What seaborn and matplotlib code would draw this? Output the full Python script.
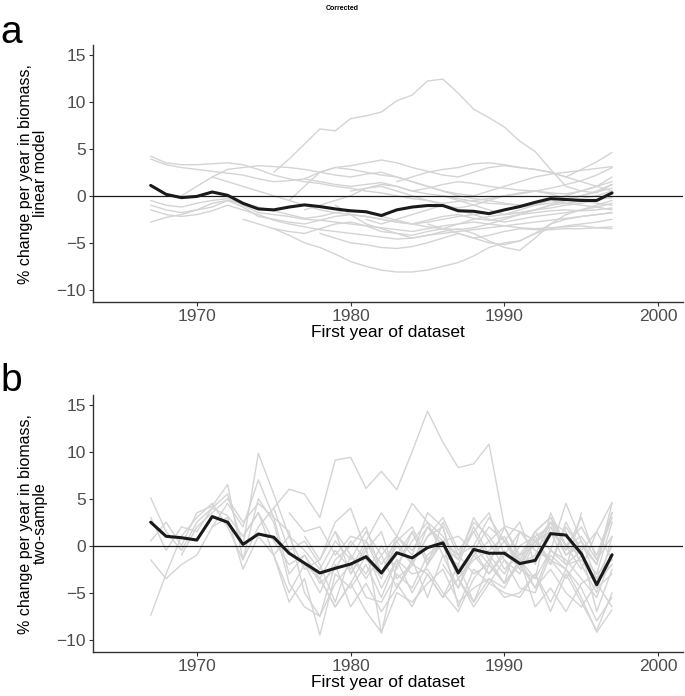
import matplotlib
matplotlib.use("Agg")
import matplotlib.pyplot as plt
import numpy as np
import pandas as pd
import seaborn as sns

years = list(range(1967, 1998))

# panel a: mean line (linear model)
mean_a = [1.1, 0.15, -0.2, -0.07, 0.4, 0.05, -0.8, -1.4, -1.5, -1.2, -0.97, -1.15,
          -1.4, -1.6, -1.7, -2.1, -1.5, -1.2, -1.04, -1.04, -1.6, -1.65, -1.9, -1.5,
          -1.15, -0.7, -0.3, -0.4, -0.5, -0.5, 0.3]

# panel b: mean line (two-sample)
mean_b = [2.5, 1.0, 0.85, 0.6, 3.1, 2.5, 0.14, 1.24, 0.9, -0.8, -1.85, -2.9,
          -2.4, -1.95, -1.17, -2.9, -0.75, -1.3, -0.2, 0.3, -2.9, -0.4, -0.8, -0.8,
          -1.9, -1.56, 1.28, 1.13, -0.85, -4.15, -0.96]

# individual datasets, (first year, values)
grey_a = [
    (1967, [4.2, 3.5, 3.3, 3.3, 3.4, 3.5, 3.3, 2.8, 2.2, 1.8, 1.5, 1.3, 1.0, 0.8, 0.5, 0.3,
            0.0, -0.3, -0.5, -0.8, -0.6, -0.5, -0.3, 0.0, 0.2, 0.5, 0.8, 1.2, 1.6, 2.2, 3.0]),
    (1967, [3.9, 3.3, 3.0, 2.8, 2.6, 2.4, 2.2, 1.8, 1.5, 1.6, 1.8, 1.5, 1.2, 1.0, 1.2, 1.4,
            1.0, 0.5, 0.2, 0.0, -0.3, -0.6, -0.8, -0.9, -1.0, -0.8, -0.5, -0.3, 0.0, 0.4, 0.8]),
    (1967, [-0.5, -1.0, -1.2, -0.8, -0.5, -0.3, -1.0, -1.8, -2.0, -2.2, -2.5, -2.6, -2.8, -3.0,
            -3.2, -3.4, -3.6, -3.8, -3.5, -3.2, -3.0, -2.8, -3.0, -3.2, -3.4, -3.5, -3.4, -3.3,
            -3.2, -3.4, -3.5]),
    (1967, [-1.0, -1.5, -1.8, -1.5, -1.2, -0.5, -1.2, -2.2, -2.5, -2.8, -3.0, -2.6, -2.2, -2.0,
            -2.2, -2.5, -2.8, -3.0, -2.6, -2.2, -2.0, -2.4, -2.6, -2.3, -2.0, -1.8, -1.6, -1.5,
            -1.6, -1.5, -1.3]),
    (1967, [-1.5, -2.0, -2.2, -2.0, -1.6, -1.0, -1.5, -2.0, -2.6, -3.0, -3.3, -3.6, -3.8, -4.0,
            -4.2, -4.4, -4.6, -4.5, -4.2, -4.0, -3.8, -3.6, -3.4, -3.2, -3.0, -2.8, -2.6, -2.4,
            -2.2, -2.0, -1.8]),
    (1967, [-2.8, -2.3, -2.0, -1.5, -0.8, -0.5, -0.8, -1.2, -1.6, -2.0, -2.4, -2.2, -1.8, -1.5,
            -1.8, -2.2, -2.6, -3.0, -3.3, -3.5, -3.6, -3.4, -3.0, -2.5, -2.0, -1.5, -1.0, -0.8,
            -0.6, -0.4, -0.2]),
    (1969, [0.0, 1.0, 2.0, 2.8, 3.0, 3.2, 3.1, 3.0, 2.8, 2.5, 2.2, 2.0, 2.3, 2.5, 2.0, 1.5,
            1.0, 0.5, 0.2, 0.0, 0.5, 1.0, 1.5, 2.0, 2.3, 2.5, 2.7, 2.9, 3.1]),
    (1971, [2.0, 1.5, 1.0, 0.5, 0.0, -0.5, -1.0, -1.5, -1.8, -2.0, -2.2, -2.5, -2.8, -3.0,
            -2.8, -2.5, -2.2, -2.0, -1.8, -1.5, -1.2, -1.0, -0.8, -0.5, -0.3, 0.0, 0.5]),
    (1975, [2.5, 3.9, 5.5, 7.1, 6.9, 8.2, 8.5, 8.9, 10.1, 10.7, 12.2, 12.4, 10.9, 9.2, 8.3,
            7.3, 5.8, 4.7, 2.8, 1.0, 0.5, 0.3, 1.2]),
    (1973, [-2.5, -3.0, -3.5, -4.2, -5.0, -5.5, -6.2, -7.0, -7.5, -7.9, -8.1, -8.1, -7.9,
            -7.5, -7.1, -6.4, -5.5, -5.0, -4.8, -4.0, -3.0, -2.5, -2.2, -2.0, -1.8]),
    (1976, [-0.5, 1.0, 2.5, 3.0, 2.8, 2.5, 2.2, 2.0, 1.5, 1.0, 0.5, 0.0, -0.3, -0.5, -0.8,
            -1.0, -0.8, -0.5, 0.0, 0.5, 1.0, 2.0]),
    (1977, [1.8, 2.5, 3.0, 3.2, 3.5, 3.8, 3.5, 3.0, 2.6, 2.2, 2.0, 2.5, 3.0, 3.2, 3.0, 2.8,
            2.5, 2.0, 2.8, 3.6, 4.6]),
    (1977, [-1.5, -1.0, -0.5, 0.0, 0.8, 1.2, 1.0, 0.5, 0.8, 1.2, 1.5, 1.3, 1.0, 0.8, 0.6,
            0.5, 0.3, 0.2, 0.5, 1.0, 1.5]),
    (1978, [-4.0, -4.5, -5.0, -5.2, -5.5, -5.6, -5.4, -5.0, -4.5, -4.0, -4.5, -5.0, -5.2,
            -4.8, -4.0, -3.5, -3.2, -3.0, -2.8, -2.5]),
    (1979, [-1.0, -2.0, -3.0, -3.5, -4.0, -4.5, -4.2, -3.8, -3.5, -4.0, -4.8, -5.5, -5.8,
            -4.5, -3.0, -2.0, -1.5, -1.0, -0.5]),
    (1980, [0.5, 0.8, 1.0, 0.5, 0.0, -0.5, -1.0, -1.3, -1.0, -0.5, 0.0, 0.3, 0.5, 0.2, -0.3,
            -0.5, -0.8, -1.0]),
    (1981, [-2.5, -3.0, -2.5, -2.0, -1.5, -1.0, -1.5, -2.0, -2.5, -2.8, -2.5, -2.2, -2.0,
            -1.8, -1.5, -1.2, -0.8]),
    (1983, [1.5, 2.0, 2.5, 2.8, 3.0, 3.4, 3.5, 3.3, 3.0, 2.8, 2.5, 2.0, 1.5, 1.0, 0.5]),
    (1985, [-3.0, -3.5, -4.0, -4.5, -4.2, -3.8, -3.5, -3.6, -3.6, -3.5, -3.5, -3.4, -3.3]),
    (1986, [0.0, -0.5, -1.0, -1.5, -2.0, -1.8, -1.5, -1.0, -0.5, 0.0, 0.5, 1.2]),
    (1990, [-2.0, -1.5, -1.0, -0.5, -0.8, -1.0, -1.2, -1.5]),
    (1975, [-3.5, -3.8, -4.0, -3.5, -3.0, -2.8, -3.2, -3.8, -4.0, -4.2, -3.8, -3.5, -3.0,
            -2.5, -2.2, -2.0, -1.8, -1.5, -1.3, -1.0, -0.8, -0.5, 0.3]),
]

grey_b = [
    (1967, [5.1, 1.5, -0.5, 2.5, 4.0, 3.2, 1.0, 3.5, 0.5, -2.0, -1.0, -4.0, -2.5, 0.5, -1.5,
            -3.0, 0.0, -2.0, 1.0, 2.0, -3.5, -1.0, 0.5, -2.5, -1.0, 0.0, 2.5, 1.5, -2.0, -5.0, 1.0]),
    (1967, [-7.4, -3.0, 1.0, 3.0, 4.5, 2.0, -1.5, 5.0, 2.5, -4.0, -6.5, -7.5, -4.0, -2.0,
            -5.5, -6.0, -3.0, -4.5, -1.0, 0.5, -6.5, -2.5, -4.0, -1.5, -4.5, -5.0, -1.0, -2.5,
            -5.5, -9.2, -6.8]),
    (1967, [3.0, -0.5, 2.0, 1.5, 4.0, 5.5, 0.0, 9.8, 5.5, 1.0, -2.5, -1.5, 1.5, -3.0, 0.0,
            -9.3, -2.0, 0.5, 2.5, -1.0, -4.5, 0.0, -2.0, 2.0, -1.5, -3.5, 3.5, 0.0, -1.0, -3.0, 2.5]),
    (1967, [0.5, 2.5, 0.0, 3.5, 4.2, 6.5, -1.5, 2.0, 4.0, -0.5, 0.5, -2.0, -6.0, -1.0, -3.5,
            -1.0, -4.5, -1.5, -5.5, -1.0, -2.0, 2.0, -1.0, -3.0, 0.0, 1.0, -2.0, 2.0, -0.5, -7.0, -2.5]),
    (1967, [-1.5, -3.5, -2.0, -1.0, 2.0, 3.0, -2.5, 1.0, -1.0, -6.0, -3.5, -9.5, -3.0, -4.5,
            -2.0, -5.5, -1.5, -3.0, -2.5, -5.0, -7.0, -3.5, -1.5, -4.0, -2.0, -4.5, -0.5, -1.5,
            -3.5, -5.5, -1.0]),
    (1969, [-1.0, 2.0, 3.5, 5.0, 2.5, 4.5, 3.0, -3.0, -1.0, -3.5, -0.5, -2.5, 0.5, -3.0, -1.0,
            1.5, -2.0, 0.5, -1.0, -3.0, -2.0, -4.0, 1.5, -0.5, -1.5, -2.5, 3.5]),
    (1971, [2.0, 4.5, 2.0, 7.0, 3.0, 1.5, -5.0, -7.5, -2.0, -6.5, -4.0, -7.0, -4.5, -2.0,
            -3.0, -5.5, -2.0, -6.0, -3.5, -4.5, -1.5, -6.5, -4.5, -7.0, -4.0, -3.0, -1.5]),
    (1975, [4.0, 6.0, 5.5, 3.0, 9.1, 9.4, 6.1, 7.9, 5.95, 10.0, 14.3, 11.0, 8.3, 8.7, 10.8,
            2.1, 1.5, 0.5, 2.5, -1.0, 0.0, -2.0, 4.5]),
    (1973, [1.0, 3.5, -1.0, -5.0, -2.0, -3.5, -6.5, -4.0, -1.0, -3.5, 0.5, -2.0, 1.0, 3.0,
            -0.5, 1.5, -1.5, 0.5, -2.5, 1.0, 2.0, -1.0, 0.5, -3.5, 0.0]),
    (1976, [3.5, 1.5, 2.0, -1.0, 1.0, 0.5, -2.0, 0.5, 2.0, -1.5, 0.5, 1.0, -0.5, 2.0, 0.5,
            -2.0, 1.5, -0.5, 4.5, 0.5, -2.0, 3.5]),
    (1977, [-2.0, -5.0, -1.5, 0.0, 2.0, -3.0, 1.0, -1.0, 3.5, 2.0, -3.5, -1.5, -0.5, 1.0,
            -2.0, -1.0, 2.5, 0.0, -2.5, 1.5, 4.6]),
    (1977, [1.0, -1.5, 2.5, 4.0, -0.5, 1.5, -3.5, -2.0, 2.0, 0.5, -1.0, 2.5, 1.0, -1.5,
            -3.0, 0.5, 1.5, -2.0, -0.5, -4.0, -2.0]),
    (1978, [-3.5, -6.5, -4.0, -7.0, -9.2, -5.0, -6.0, -4.0, -2.5, -6.0, -4.5, -3.5, -5.5,
            -5.0, -3.0, -6.0, -2.5, -4.5, -8.0, -5.5]),
    (1979, [1.5, -1.0, -3.0, 0.0, -2.5, 1.5, -2.0, 2.5, -1.0, 0.0, 3.0, 0.5, 2.5, -2.0,
            2.0, -0.5, 3.0, -1.5, 1.0]),
    (1980, [-3.0, -0.5, -4.5, -1.5, -5.0, -2.0, 0.5, -3.5, -6.0, -2.0, -4.0, -1.5, -4.5,
            -2.5, -5.0, -6.5, -4.0, -6.5]),
    (1981, [0.5, 3.5, 1.0, 4.5, 2.5, 1.0, -1.5, 3.0, 0.5, 2.0, -1.0, 1.5, 3.0, 0.0, 1.0,
            -1.5, 3.0]),
    (1983, [-4.0, -6.5, -3.0, -5.5, -3.5, -6.5, -4.0, -5.0, -5.5, -3.0, -7.0, -3.0, -6.0,
            -9.0, -5.0]),
    (1985, [2.0, 0.0, -1.5, 1.5, 3.5, -1.0, 1.5, 0.5, -2.0, 2.5, -0.5, 1.5, -1.5]),
    (1986, [-2.0, -4.5, -1.0, -3.0, -0.5, -2.5, -3.5, -0.5, -2.0, -1.5, -3.5, -2.0]),
    (1990, [0.5, -1.5, 1.5, 3.0, 0.0, 2.0, -1.0, 3.5]),
    (1975, [-1.0, 1.0, -0.5, -2.5, 0.5, -1.5, 1.5, -1.0, 1.0, -0.5, 2.0, 0.0, -2.5, -0.5,
            -3.0, -1.0, -2.0, 0.5, -1.5, -3.5, -1.0, -4.5, -3.0]),
]


def to_long(series):
    rows = []
    for i, (start, vals) in enumerate(series):
        for k, v in enumerate(vals):
            rows.append({"year": start + k, "value": v, "id": i})
    return pd.DataFrame(rows)


sns.set_theme(style="white")
plt.rcParams["font.family"] = ["Liberation Sans", "DejaVu Sans"]

fig = plt.figure(figsize=(6.85, 6.96), dpi=100)
ax_a = fig.add_axes([0.1358, 0.566, 0.861, 0.369])
ax_b = fig.add_axes([0.1358, 0.0632, 0.861, 0.369])

panels = [
    (ax_a, grey_a, mean_a, "% change per year in biomass,\nlinear model", "a"),
    (ax_b, grey_b, mean_b, "% change per year in biomass,\ntwo-sample", "b"),
]

for ax, grey, mean, ylabel, tag in panels:
    df = to_long(grey)
    sns.lineplot(data=df, x="year", y="value", units="id", estimator=None,
                 color="#d4d4d4", linewidth=1.0, ax=ax, legend=False)
    ax.axhline(0, color="#1a1a1a", linewidth=0.9, zorder=3)
    sns.lineplot(x=years, y=mean, color="#1a1a1a", linewidth=2.2, ax=ax, zorder=4)
    ax.set_xlim(1963.25, 2001.6)
    ax.set_ylim(-11.3, 16.0)
    ax.set_xticks([1970, 1980, 1990, 2000])
    ax.set_yticks([-10, -5, 0, 5, 10, 15])
    ax.set_xlabel("First year of dataset", fontsize=12.5, color="black", labelpad=1)
    ax.set_ylabel(ylabel, fontsize=11.5, color="black", labelpad=6, linespacing=1.0)
    ax.tick_params(axis="both", labelsize=12.5, labelcolor="#4d4d4d", color="#333333",
                   length=3, width=0.8, direction="out", left=True, bottom=True, pad=2)
    for side in ["top", "right"]:
        ax.spines[side].set_visible(False)
    for side in ["left", "bottom"]:
        ax.spines[side].set_color("#333333")
        ax.spines[side].set_linewidth(1.0)
    ax.grid(False)

fig.text(0.5, 0.988, "Corrected", ha="center", va="center", fontsize=5,
         fontweight="bold", color="black")
fig.text(0.0, 0.953, "a", fontsize=28, ha="left", va="center", color="black")
fig.text(0.0, 0.452, "b", fontsize=28, ha="left", va="center", color="black")

fig.savefig("out.png", dpi=100)
